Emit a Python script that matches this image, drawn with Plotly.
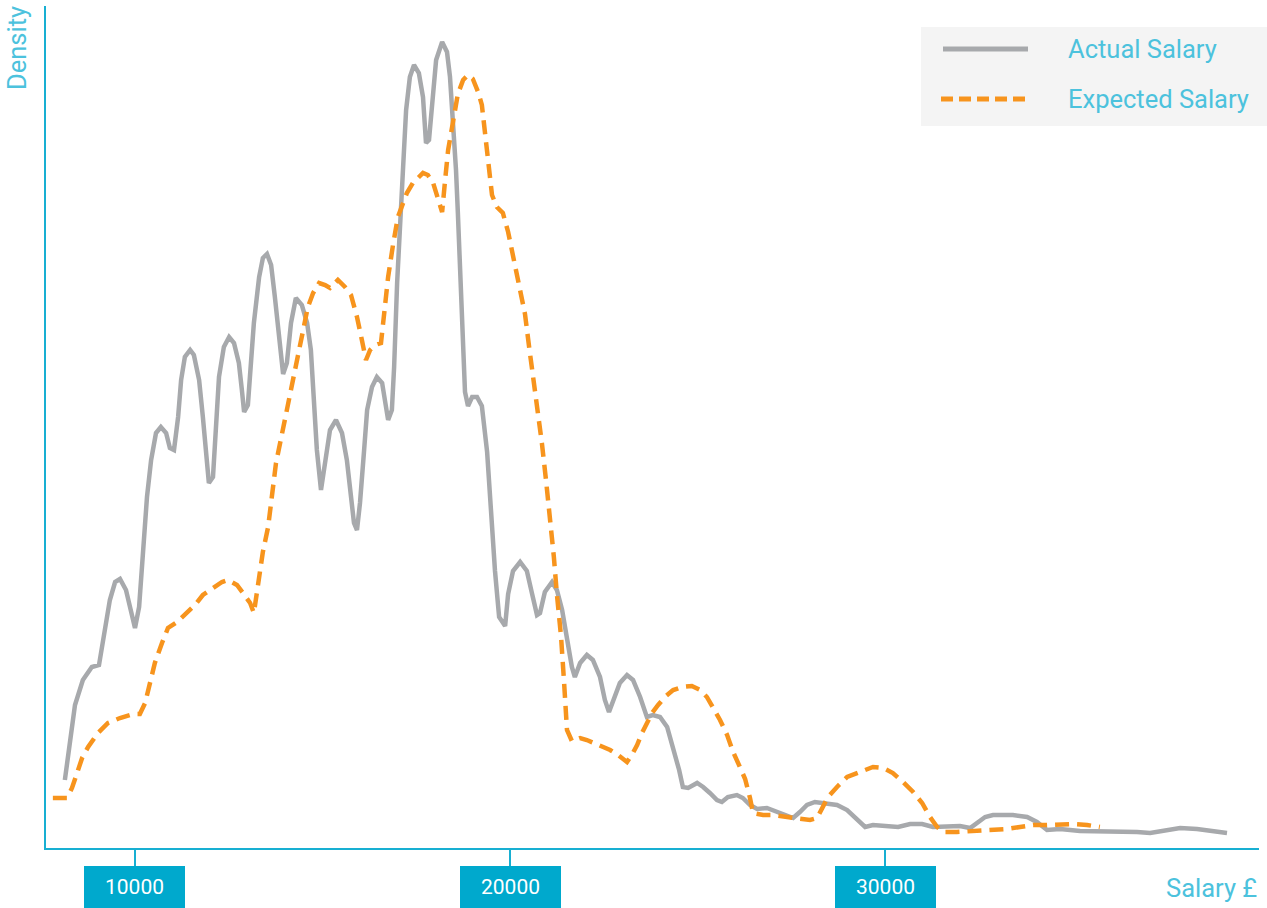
import plotly.graph_objects as go

# Salary (GBP) and kernel density (in units of 1e-7)
actual_salary = [8130, 8270, 8400, 8610, 8850, 9040, 9200, 9330, 9470, 9600, 9760, 9890, 10000, 10110,
                 10210, 10320, 10430, 10560, 10690, 10830, 10930, 11040, 11150, 11230, 11330, 11470,
                 11570, 11710, 11810, 11890, 11970, 12080, 12160, 12240, 12370, 12510, 12640, 12770,
                 12850, 12910, 13010, 13090, 13170, 13310, 13410, 13520, 13630, 13730, 13840, 13950,
                 14050, 14160, 14290, 14450, 14590, 14690, 14770, 14850, 14960, 15070, 15200, 15360,
                 15520, 15650, 15760, 15840, 15920, 16000, 16110, 16190, 16320, 16450, 16590, 16670,
                 16750, 16850, 16910, 16990, 17070, 17150, 17230, 17330, 17440, 17570, 17680, 17760,
                 17840, 17950, 18030, 18190, 18320, 18400, 18480, 18560, 18610, 18690, 18750, 18800,
                 18880, 18990, 19120, 19250, 19390, 19490, 19600, 19710, 19870, 19950, 20080, 20270,
                 20450, 20590, 20720, 20800, 20930, 21120, 21250, 21390, 21520, 21650, 21730, 21870,
                 22050, 22210, 22400, 22530, 22640, 22770, 22930, 23120, 23280, 23470, 23650, 23810,
                 24000, 24190, 24350, 24510, 24610, 24750, 24990, 25150, 25330, 25520, 25650, 25810,
                 26050, 26210, 26400, 26590, 26850, 27200, 27550, 27730, 27920, 28130, 28400, 28720,
                 28990, 29200, 29470, 29680, 30050, 30350, 30670, 30990, 31280, 31650, 32000, 32270,
                 32450, 32670, 32880, 33070, 33410, 33790, 34050, 34320, 34670, 35200, 35730, 36270,
                 36720, 37070, 37410, 37870, 38320, 38750, 39120]
actual_density = [68, 108, 143, 168, 181, 183, 216, 248, 266, 269, 258, 238, 220, 241,
                  298, 351, 388, 415, 421, 415, 400, 398, 431, 468, 491, 498,
                  493, 468, 431, 391, 365, 371, 418, 471, 501, 511, 505, 485,
                  458, 436, 443, 478, 525, 571, 590, 594, 583, 551, 508, 474,
                  485, 525, 550, 543, 525, 498, 448, 398, 358, 385, 418, 428,
                  415, 388, 355, 325, 318, 345, 398, 438, 461, 471, 465, 445,
                  428, 438, 481, 565, 631, 681, 738, 771, 783, 775, 751, 705,
                  708, 751, 788, 806, 796, 771, 728, 678, 635, 566, 497, 456,
                  442, 451, 451, 442, 396, 336, 277, 231, 222, 254, 277, 286,
                  277, 254, 233, 235, 256, 266, 258, 238, 211, 181, 171, 185,
                  193, 188, 171, 148, 136, 148, 165, 173, 168, 151, 131, 133,
                  131, 121, 101, 78, 61, 60, 65, 61, 55, 48, 46, 51,
                  53, 50, 43, 39, 40, 35, 30, 36, 43, 46, 45, 43,
                  38, 30, 21, 23, 22, 21, 24, 24, 21, 21, 22, 20,
                  25, 31, 33, 33, 33, 31, 26, 18, 19, 17, 17, 17,
                  16, 15, 17, 20, 19, 17, 15]

expected_salary = [7810, 8190, 8320, 8400, 8590, 8750, 9010, 9280, 9600, 9950, 10130, 10270, 10400,
                   10530, 10720, 10880, 11120, 11390, 11600, 11810, 12080, 12320, 12480, 12720,
                   12880, 13070, 13170, 13280, 13410, 13550, 13650, 13760, 13870, 14050, 14210,
                   14350, 14480, 14610, 14750, 14910, 15070, 15200, 15410, 15600, 15760, 15920,
                   16050, 16160, 16270, 16400, 16560, 16640, 16750, 16880, 17010, 17250, 17410,
                   17680, 17810, 17950, 18080, 18190, 18270, 18350, 18480, 18610, 18750, 18880,
                   19010, 19150, 19250, 19330, 19410, 19520, 19650, 19810, 19950, 20080, 20270,
                   20400, 20510, 20610, 20720, 20850, 20960, 21070, 21170, 21250, 21360, 21440,
                   21520, 21650, 21870, 22050, 22350, 22670, 22880, 23120, 23250, 23390, 23520,
                   23650, 23790, 23950, 24130, 24350, 24590, 24850, 25070, 25250, 25410, 25600,
                   25790, 25950, 26130, 26270, 26400, 26480, 26750, 27010, 27390, 27650, 28000,
                   28190, 28320, 28480, 28720, 28990, 29330, 29680, 29950, 30210, 30480, 30750,
                   30990, 31200, 31390, 31550, 31920, 32350, 32720, 33250, 33600, 33950, 34320,
                   34670, 35010, 35390, 35730]
expected_density = [50, 50, 60, 68, 90, 101, 115, 125, 130, 134, 134, 145, 165,
                    185, 205, 220, 226, 235, 243, 253, 260, 266, 268, 263,
                    255, 245, 235, 263, 296, 321, 351, 385, 405, 438, 471,
                    498, 521, 541, 555, 565, 563, 560, 568, 561, 553, 531,
                    508, 488, 498, 503, 505, 535, 571, 603, 631, 655, 665,
                    675, 673, 665, 648, 636, 668, 698, 726, 754, 768, 773,
                    769, 756, 743, 713, 683, 653, 641, 635, 616, 592, 561,
                    534, 501, 474, 442, 405, 368, 332, 291, 254, 212, 167,
                    118, 107, 110, 108, 103, 98, 93, 86, 93, 103, 115,
                    125, 135, 143, 151, 158, 161, 162, 158, 151, 141, 128,
                    113, 96, 81, 69, 50, 35, 33, 33, 31, 30, 28,
                    30, 40, 51, 61, 71, 76, 81, 80, 75, 66, 56,
                    45, 31, 21, 16, 16, 17, 18, 19, 21, 23, 23,
                    24, 24, 23, 21]

tick_values = [10000, 20000, 30000]
tick_labels = ["10000", "20000", "30000"]
series_names = ["Actual Salary", "Expected Salary"]
x_title = "Salary £"
y_title = "Density"

GRAY = "#a7a9ac"
ORANGE = "#f7941d"
AXIS = "#18afd2"
BOX = "#00a9cd"
TXT = "#4cc2dd"
FONT = "Roboto, 'Open Sans', sans-serif"
TFS = 25.5

fig = go.Figure()
fig.add_trace(go.Scatter(x=actual_salary, y=actual_density, mode="lines", name=series_names[0],
                         line=dict(color=GRAY, width=4.5), showlegend=False, hoverinfo="skip"))
fig.add_trace(go.Scatter(x=expected_salary, y=expected_density, mode="lines", name=series_names[1],
                         line=dict(color=ORANGE, width=4.5, dash="14px,8px"), showlegend=False,
                         hoverinfo="skip"))

W, H = 1267, 908
L, R, T, B = 46, 8, 6, 60
pw, ph = W - L - R, H - T - B


def px(xp):
    return (xp - L) / pw


def py(yp):
    return (H - B - yp) / ph


annotations = []
for v, t in zip(tick_values, tick_labels):
    annotations.append(dict(x=v, xref="x", y=py(866), yref="paper", yanchor="top", xanchor="center",
                            text=t, showarrow=False, bgcolor=BOX, width=101, height=42,
                            borderpad=0, borderwidth=0, valign="middle",
                            font=dict(family=FONT, size=21, color="white")))
annotations.append(dict(x=px(1259), xref="paper", y=py(888), yref="paper", xanchor="right",
                        yanchor="middle", text=x_title, showarrow=False,
                        font=dict(family=FONT, size=TFS, color=TXT)))
annotations.append(dict(x=px(17), xref="paper", y=py(48), yref="paper", xanchor="center",
                        yanchor="middle", text=y_title, showarrow=False, textangle=-90,
                        font=dict(family=FONT, size=TFS, color=TXT)))
# legend (drawn manually to match the long sample lines)
annotations.append(dict(x=px(1066), xref="paper", y=py(49), yref="paper", xanchor="left",
                        yanchor="middle", text=series_names[0], showarrow=False,
                        font=dict(family=FONT, size=TFS, color=TXT)))
annotations.append(dict(x=px(1066), xref="paper", y=py(99), yref="paper", xanchor="left",
                        yanchor="middle", text=series_names[1], showarrow=False,
                        font=dict(family=FONT, size=TFS, color=TXT)))

shapes = [
    dict(type="rect", xref="paper", yref="paper", x0=px(921), x1=px(1270), y0=py(126), y1=py(27),
         fillcolor="#f4f4f4", line=dict(width=0), layer="below"),
    dict(type="line", xref="paper", yref="paper", x0=px(943), x1=px(1028), y0=py(49), y1=py(49),
         line=dict(color=GRAY, width=5)),
    dict(type="line", xref="paper", yref="paper", x0=px(941), x1=px(1030), y0=py(99), y1=py(99),
         line=dict(color=ORANGE, width=5, dash="12px,6px")),
]

fig.update_layout(
    width=W, height=H,
    margin=dict(l=L, r=R, t=T, b=B, pad=0),
    paper_bgcolor="white", plot_bgcolor="white",
    showlegend=False,
    xaxis=dict(range=[7627, 39973], showgrid=False, zeroline=False, showline=True,
               linecolor=AXIS, linewidth=2, ticks="outside", ticklen=18, tickwidth=2,
               tickcolor=AXIS, tickvals=tick_values, showticklabels=False, fixedrange=True),
    yaxis=dict(range=[0, 842], showgrid=False, zeroline=False, showline=True,
               linecolor=AXIS, linewidth=2, ticks="", showticklabels=False, fixedrange=True),
    annotations=annotations,
    shapes=shapes,
)

fig.write_html("out.html", config={"displayModeBar": False},
               post_script="document.body.style.margin='0';document.body.style.overflow='hidden';")
